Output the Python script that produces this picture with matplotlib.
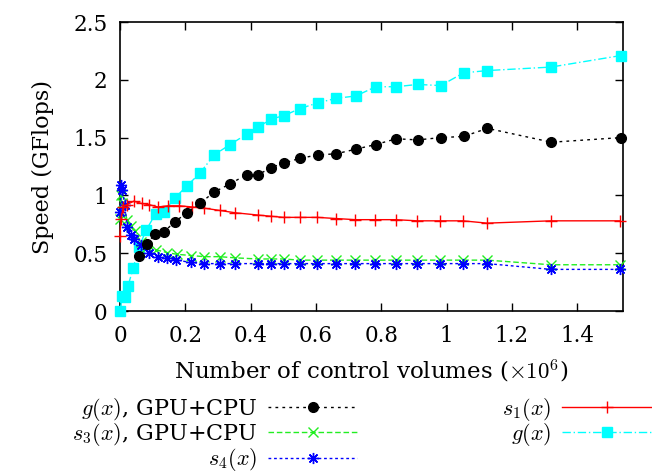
import numpy as np
import matplotlib
matplotlib.use("Agg")
import matplotlib.pyplot as plt
from matplotlib.ticker import FuncFormatter

plt.rcParams['font.family'] = ['DejaVu Serif']
plt.rcParams['mathtext.fontset'] = 'cm'

# g(x), GPU+CPU
x_g_hyb = [0.058, 0.082, 0.107, 0.134, 0.168, 0.204, 0.244, 0.289, 0.337, 0.388,
           0.424, 0.462, 0.502, 0.55, 0.605, 0.662, 0.722, 0.783, 0.846, 0.911,
           0.982, 1.052, 1.125, 1.321, 1.534]
y_g_hyb = [0.48, 0.58, 0.665, 0.685, 0.77, 0.85, 0.93, 1.03, 1.10, 1.18,
           1.18, 1.24, 1.28, 1.32, 1.35, 1.36, 1.40, 1.44, 1.49, 1.48,
           1.50, 1.51, 1.58, 1.46, 1.50]

# s3(x), GPU+CPU
x_s3 = [0.001, 0.003, 0.006, 0.022, 0.033, 0.045, 0.063, 0.083, 0.109, 0.145,
        0.175, 0.218, 0.257, 0.305, 0.352, 0.422, 0.461, 0.501, 0.55, 0.604,
        0.661, 0.721, 0.782, 0.845, 0.91, 0.98, 1.05, 1.124, 1.319, 1.531]
y_s3 = [0.80, 1.00, 0.93, 0.79, 0.735, 0.69, 0.60, 0.55, 0.53, 0.505,
        0.49, 0.48, 0.47, 0.47, 0.46, 0.45, 0.45, 0.45, 0.44, 0.44,
        0.44, 0.44, 0.44, 0.44, 0.44, 0.44, 0.44, 0.44, 0.40, 0.40]

# s4(x)
x_s4 = [0.001, 0.003, 0.006, 0.015, 0.022, 0.033, 0.043, 0.063, 0.089, 0.117,
        0.145, 0.172, 0.218, 0.257, 0.305, 0.352, 0.422, 0.461, 0.501, 0.55,
        0.604, 0.661, 0.721, 0.782, 0.845, 0.91, 0.98, 1.05, 1.124, 1.319, 1.531]
y_s4 = [0.86, 1.09, 1.05, 0.92, 0.73, 0.66, 0.62, 0.57, 0.505, 0.465,
        0.455, 0.44, 0.42, 0.41, 0.41, 0.41, 0.41, 0.41, 0.41, 0.41,
        0.41, 0.41, 0.41, 0.41, 0.41, 0.41, 0.41, 0.41, 0.41, 0.36, 0.36]

# s1(x)
x_s1 = [0.0, 0.003, 0.01, 0.021, 0.042, 0.066, 0.089, 0.116, 0.147, 0.182,
        0.221, 0.257, 0.305, 0.352, 0.422, 0.461, 0.501, 0.55, 0.604, 0.661,
        0.721, 0.782, 0.845, 0.91, 0.98, 1.05, 1.124, 1.319, 1.531]
y_s1 = [0.65, 0.80, 0.90, 0.92, 0.95, 0.93, 0.92, 0.90, 0.91, 0.91,
        0.90, 0.89, 0.87, 0.85, 0.83, 0.82, 0.81, 0.81, 0.81, 0.80,
        0.79, 0.79, 0.79, 0.78, 0.78, 0.78, 0.76, 0.78, 0.78]

# g(x)
x_g = [0.0, 0.007, 0.014, 0.025, 0.04, 0.058, 0.08, 0.109, 0.134, 0.169,
       0.204, 0.244, 0.288, 0.337, 0.388, 0.423, 0.462, 0.502, 0.55, 0.605,
       0.662, 0.722, 0.783, 0.846, 0.911, 0.982, 1.052, 1.125, 1.319, 1.534]
y_g = [0.0, 0.13, 0.12, 0.22, 0.37, 0.55, 0.70, 0.84, 0.86, 0.98,
       1.08, 1.19, 1.35, 1.44, 1.53, 1.59, 1.66, 1.69, 1.75, 1.80,
       1.84, 1.86, 1.94, 1.94, 1.96, 1.95, 2.06, 2.08, 2.11, 2.21]

fig = plt.figure(figsize=(6.52, 4.73), dpi=100)
ax = fig.add_axes([120 / 652, 1 - 311 / 473, (623 - 120) / 652, (311 - 22) / 473])

lw = 1.0
ax.plot(x_g_hyb, y_g_hyb, color='black', ls=(0, (2, 3)), lw=lw, marker='o', ms=7,
        label='$g(x)$, GPU+CPU', clip_on=False, zorder=5)
ax.plot(x_s3, y_s3, color='#22ee22', ls=(0, (4, 2)), lw=lw, marker='x', ms=7, mew=1.0,
        label='$s_3(x)$, GPU+CPU', clip_on=False, zorder=4)
ax.plot(x_s4, y_s4, color='#0000ff', ls=(0, (2, 2)), lw=lw, marker=(8, 2, 0), ms=8, mew=1.0,
        label='$s_4(x)$', clip_on=False, zorder=4)
ax.plot(x_s1, y_s1, color='#ff0000', ls='-', lw=lw, marker='+', ms=8, mew=1.0,
        label='$s_1(x)$', clip_on=False, zorder=4)
ax.plot(x_g, y_g, color='#00ffff', ls=(0, (6, 2, 1, 2)), lw=lw, marker='s', ms=7,
        label='$g(x)$', clip_on=False, zorder=3)

ax.set_xlim(0, 1.54)
ax.set_ylim(0, 2.5)
ax.set_xticks([0, 0.2, 0.4, 0.6, 0.8, 1.0, 1.2, 1.4])
ax.set_yticks([0, 0.5, 1.0, 1.5, 2.0, 2.5])
fmt = FuncFormatter(lambda v, p: '%g' % v)
ax.xaxis.set_major_formatter(fmt)
ax.yaxis.set_major_formatter(fmt)
ax.tick_params(direction='in', length=6, width=1, top=True, right=True, labelsize=15.5)
ax.tick_params(axis='y', pad=9)
ax.tick_params(axis='x', pad=10)
for sp in ax.spines.values():
    sp.set_linewidth(1.2)

ax.set_xlabel('Number of control volumes ($\\times 10^6$)', fontsize=16.5, labelpad=8)
ax.set_ylabel('Speed (GFlops)', fontsize=16, labelpad=14)

fig.legend(loc='upper right', bbox_to_anchor=(651 / 652, 1 - 396 / 473), ncol=2,
           frameon=False, markerfirst=False, fontsize=16, handlelength=4.0,
           handletextpad=0.5, columnspacing=6.5, labelspacing=-0.08,
           borderaxespad=0, borderpad=0)

fig.savefig('out.png', dpi=100)
